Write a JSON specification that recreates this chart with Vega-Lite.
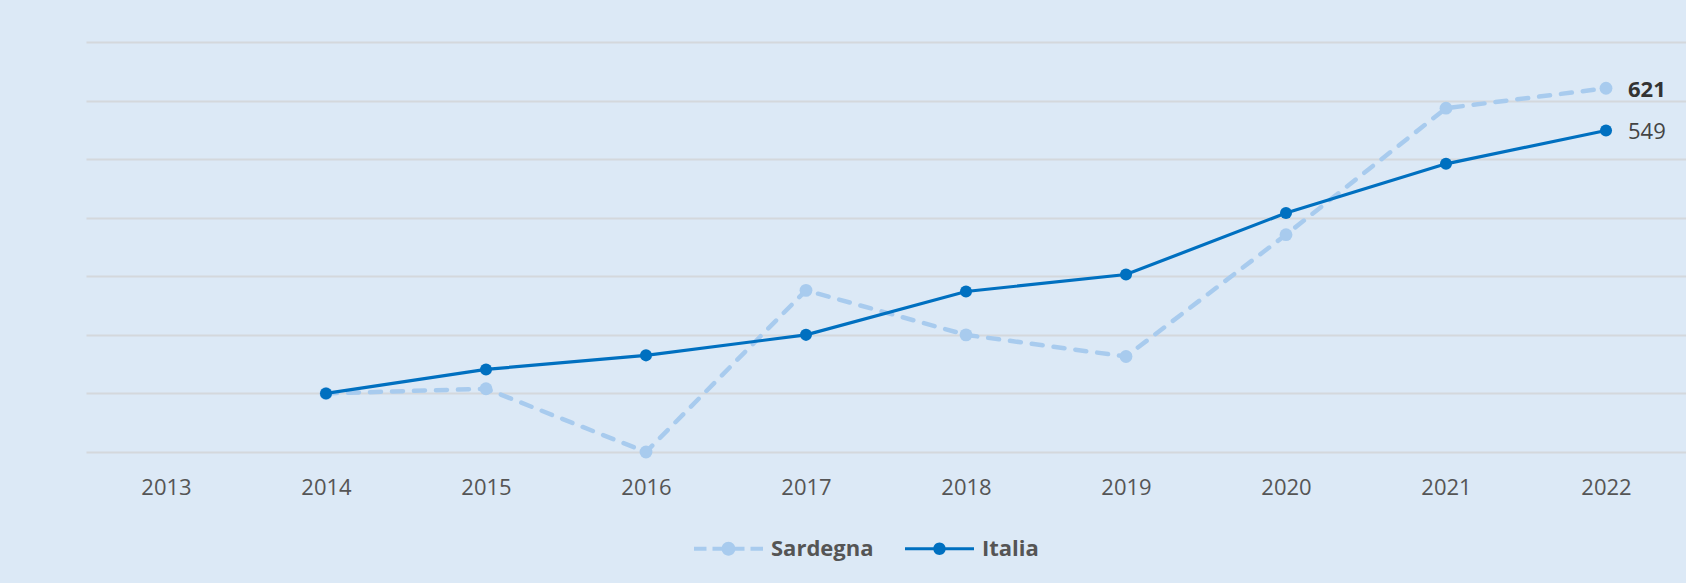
{
  "$schema": "https://vega.github.io/schema/vega-lite/v6.json",
  "width": 1600,
  "height": 410,
  "padding": {"left": 86, "top": 42, "right": 0, "bottom": 60},
  "background": "#dce9f6",
  "config": {"view": {"stroke": null}, "font": "Open Sans"},
  "data": {
    "values": [
      {"year": "2014", "series": "Sardegna", "value": 100},
      {"year": "2015", "series": "Sardegna", "value": 108},
      {"year": "2016", "series": "Sardegna", "value": 0},
      {"year": "2017", "series": "Sardegna", "value": 276},
      {"year": "2018", "series": "Sardegna", "value": 200},
      {"year": "2019", "series": "Sardegna", "value": 163},
      {"year": "2020", "series": "Sardegna", "value": 371},
      {"year": "2021", "series": "Sardegna", "value": 587},
      {"year": "2022", "series": "Sardegna", "value": 621},
      {"year": "2014", "series": "Italia", "value": 100},
      {"year": "2015", "series": "Italia", "value": 141},
      {"year": "2016", "series": "Italia", "value": 165},
      {"year": "2017", "series": "Italia", "value": 200},
      {"year": "2018", "series": "Italia", "value": 274},
      {"year": "2019", "series": "Italia", "value": 303},
      {"year": "2020", "series": "Italia", "value": 408},
      {"year": "2021", "series": "Italia", "value": 492},
      {"year": "2022", "series": "Italia", "value": 549}
    ]
  },
  "encoding": {
    "x": {
      "field": "year",
      "type": "ordinal",
      "scale": {"type": "point", "domain": ["2013", "2014", "2015", "2016", "2017", "2018", "2019", "2020", "2021", "2022"], "padding": 0.5},
      "axis": {"title": null, "domain": false, "ticks": false, "tickSize": 0, "labelPadding": 25, "labelFontSize": 22, "labelColor": "#555555", "labelFont": "Open Sans", "labelAngle": 0, "grid": false}
    },
    "y": {
      "field": "value",
      "type": "quantitative",
      "scale": {"domain": [0, 700], "nice": false},
      "axis": {"title": null, "domain": false, "ticks": false, "labels": false, "grid": true, "gridColor": "#d4d8dc", "gridWidth": 2, "values": [0, 100, 200, 300, 400, 500, 600, 700]}
    },
    "color": {
      "field": "series",
      "type": "nominal",
      "scale": {"domain": ["Sardegna", "Italia"], "range": ["#a8cbee", "#0070c0"]},
      "legend": {
        "orient": "none",
        "legendX": 608,
        "legendY": 472,
        "direction": "horizontal",
        "title": null,
        "padding": 0,
        "symbolSize": 4761,
        "symbolStrokeWidth": 0,
        "labelOffset": 8,
        "columnPadding": 31,
        "labelFont": "Open Sans",
        "labelFontSize": 22,
        "labelFontWeight": "bold",
        "labelColor": "#555555",
        "encode": {
          "symbols": {
            "update": {
              "shape": {"signal": "datum.value === 'Sardegna' ? 'M-1,-0.058H-0.638V0.058H-1Z M-0.464,-0.058H-0.15V0.058H-0.464Z M0.15,-0.058H0.464V0.058H0.15Z M0.638,-0.058H1V0.058H0.638Z M-0.2,0A0.2,0.2 0 1,1 0.2,0A0.2,0.2 0 1,1 -0.2,0Z' : 'M-1,-0.045H-0.16V0.045H-1Z M0.16,-0.045H1V0.045H0.16Z M-0.18,0A0.18,0.18 0 1,1 0.18,0A0.18,0.18 0 1,1 -0.18,0Z'"},
              "fill": {"signal": "datum.value === 'Sardegna' ? '#a8cbee' : '#0070c0'"},
              "strokeWidth": {"value": 0},
              "opacity": {"value": 1}
            }
          }
        }
      }
    }
  },
  "layer": [
    {
      "transform": [{"filter": "datum.series === 'Sardegna'"}],
      "mark": {"type": "line", "strokeWidth": 4.5, "strokeDash": [11, 11], "strokeCap": "round"}
    },
    {
      "transform": [{"filter": "datum.series === 'Sardegna'"}],
      "mark": {"type": "circle", "size": 165, "opacity": 1}
    },
    {
      "transform": [{"filter": "datum.series === 'Italia'"}],
      "mark": {"type": "line", "strokeWidth": 3.2}
    },
    {
      "transform": [{"filter": "datum.series === 'Italia'"}],
      "mark": {"type": "circle", "size": 145, "opacity": 1}
    },
    {
      "transform": [{"filter": "datum.series === 'Sardegna' && datum.year === '2022'"}],
      "mark": {"type": "text", "align": "left", "baseline": "middle", "dx": 22, "dy": 2, "fontSize": 22, "fontWeight": "bold", "font": "Open Sans"},
      "encoding": {"text": {"field": "value", "type": "quantitative"}, "color": {"value": "#333333"}}
    },
    {
      "transform": [{"filter": "datum.series === 'Italia' && datum.year === '2022'"}],
      "mark": {"type": "text", "align": "left", "baseline": "middle", "dx": 22, "dy": 2, "fontSize": 22, "font": "Open Sans"},
      "encoding": {"text": {"field": "value", "type": "quantitative"}, "color": {"value": "#444444"}}
    }
  ]
}
